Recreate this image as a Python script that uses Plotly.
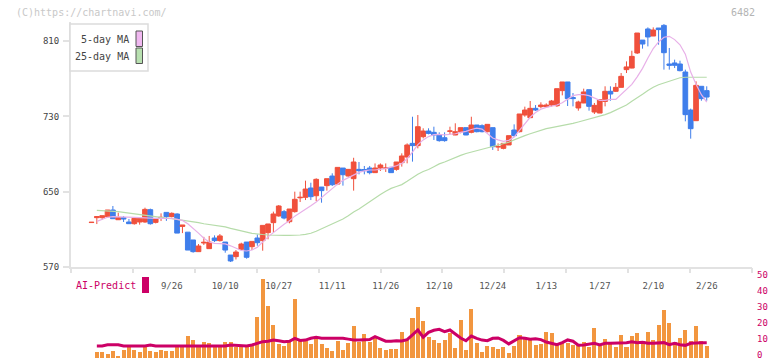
import plotly.graph_objects as go

# ---------------- data ----------------
idx = list(range(116))

opens = [
    617.2, 622.4, 622.4, 623.5, 630.5, 620.2, 622.4, 617.8, 616.0, 617.8,
    617.8, 630.9, 617.4, 622.0, 628.0, 623.5, 626.3, 613.1, 607.0, 598.7,
    586.3, 595.5, 589.5, 600.8, 598.0, 596.5, 582.7, 581.0, 588.8, 596.5,
    591.6, 600.8, 598.0, 606.5, 617.1, 624.2, 628.8, 618.1, 628.8, 643.5,
    644.0, 653.9, 645.7, 654.9, 656.4, 666.6, 658.1, 675.1, 666.6, 663.8,
    673.7, 673.5, 675.1, 670.2, 675.1, 674.8, 675.8, 673.7, 680.8, 686.8,
    701.3, 698.9, 708.4, 714.4, 713.0, 710.2, 707.3, 714.2, 710.2, 713.7,
    718.0, 713.0, 720.8, 720.1, 713.7, 718.0, 697.5, 696.0, 699.6, 715.5,
    713.7, 731.4, 728.6, 738.5, 740.3, 740.3, 742.0, 741.3, 757.3, 766.5,
    750.0, 738.9, 744.2, 758.3, 734.6, 733.5, 745.9, 756.6, 756.6, 760.8,
    779.6, 781.3, 797.3, 811.0, 822.8, 815.3, 823.8, 826.6, 785.6, 786.7,
    785.6, 777.1, 736.7, 725.4, 761.9, 757.3,
]
highs = [
    617.5, 623.5, 624.5, 630.5, 634.8, 627.7, 624.0, 621.0, 621.7, 622.0,
    633.0, 632.0, 621.7, 627.0, 628.0, 628.0, 627.0, 614.6, 607.0, 598.7,
    594.4, 602.0, 603.0, 603.6, 605.0, 596.5, 582.7, 588.0, 595.8, 596.5,
    597.2, 604.6, 614.2, 615.7, 628.8, 635.8, 630.5, 631.6, 650.0, 650.0,
    661.7, 659.5, 664.2, 655.0, 663.8, 669.5, 675.8, 675.1, 674.0, 686.0,
    681.5, 677.3, 677.3, 680.0, 680.0, 680.0, 676.0, 681.5, 690.7, 701.3,
    729.6, 731.4, 717.3, 717.3, 719.0, 713.0, 713.0, 719.0, 722.6, 718.0,
    718.0, 729.6, 720.8, 721.5, 721.5, 718.0, 701.3, 701.3, 709.5, 721.5,
    732.5, 740.3, 746.3, 742.0, 744.9, 743.8, 747.4, 759.4, 766.5, 766.5,
    754.8, 746.6, 759.4, 758.3, 744.2, 747.7, 761.9, 761.9, 765.4, 776.0,
    788.4, 799.7, 818.5, 811.0, 824.5, 824.5, 823.8, 828.0, 802.6, 790.2,
    789.1, 779.6, 738.2, 767.2, 761.9, 761.9,
]
lows = [
    617.2, 615.6, 620.4, 623.0, 621.0, 620.0, 617.8, 616.0, 615.0, 615.0,
    617.0, 615.0, 616.3, 618.8, 619.0, 622.7, 606.0, 606.0, 588.0, 585.2,
    586.0, 593.4, 589.5, 596.5, 597.0, 585.2, 575.3, 578.0, 588.0, 578.8,
    588.0, 592.6, 587.3, 599.4, 606.5, 623.5, 620.6, 616.4, 627.7, 639.0,
    641.1, 641.1, 640.0, 638.3, 651.1, 656.0, 657.0, 656.4, 666.0, 651.1,
    668.4, 668.4, 668.4, 670.0, 672.0, 670.9, 670.0, 672.3, 676.6, 680.1,
    681.9, 696.0, 706.6, 710.9, 704.9, 703.1, 703.1, 710.9, 710.0, 712.0,
    710.0, 712.0, 713.0, 713.0, 713.0, 694.3, 693.2, 695.0, 699.6, 708.4,
    713.0, 729.6, 728.6, 735.7, 738.5, 739.2, 740.3, 740.0, 752.3, 741.0,
    740.6, 736.0, 744.0, 736.0, 732.5, 733.5, 740.6, 746.6, 755.9, 760.8,
    776.0, 781.0, 796.2, 801.9, 804.3, 815.3, 806.1, 779.6, 779.6, 781.3,
    777.8, 724.7, 706.3, 725.4, 746.6, 746.6,
]
closes = [
    617.5, 623.5, 624.5, 630.5, 621.3, 622.4, 621.0, 616.0, 621.7, 621.7,
    631.2, 616.0, 621.0, 622.7, 623.5, 627.0, 606.0, 614.6, 588.0, 586.3,
    592.3, 596.2, 596.5, 598.0, 603.0, 588.0, 576.4, 585.9, 594.4, 580.3,
    597.2, 595.8, 614.2, 615.7, 626.3, 634.8, 622.0, 631.6, 641.9, 644.0,
    652.8, 644.7, 663.1, 651.1, 663.8, 657.4, 675.8, 668.0, 673.7, 681.5,
    672.3, 672.3, 670.2, 675.1, 678.3, 675.1, 670.2, 681.5, 687.9, 699.6,
    698.9, 719.0, 714.4, 711.9, 710.2, 704.2, 704.2, 714.4, 713.7, 718.0,
    710.2, 720.8, 713.7, 713.7, 721.5, 697.8, 697.8, 701.3, 709.5, 709.5,
    732.5, 736.7, 738.5, 736.7, 742.0, 742.0, 746.3, 759.4, 766.5, 748.8,
    748.8, 745.2, 755.9, 740.6, 741.7, 747.7, 756.6, 753.7, 760.8, 772.5,
    782.5, 793.7, 818.5, 806.8, 814.3, 821.7, 822.1, 797.6, 784.2, 784.2,
    778.5, 731.8, 716.9, 762.9, 748.8, 750.5,
]
ma5 = [
    None, 618.5, 620.5, 622.8, 623.5, 623.5, 623.3, 623.0, 622.7, 622.4,
    622.0, 621.8, 621.7, 621.7, 621.7, 621.5, 620.5, 619.5, 616.0, 611.5,
    606.0, 600.5, 596.5, 595.1, 595.0, 594.5, 592.5, 590.0, 587.5, 587.0,
    588.0, 591.0, 597.0, 602.0, 606.5, 611.5, 615.5, 619.0, 624.0, 627.5,
    631.0, 635.0, 639.0, 644.0, 648.5, 653.0, 658.0, 662.0, 665.0, 668.0,
    670.5, 672.0, 673.0, 673.0, 673.5, 674.5, 676.0, 677.5, 680.0, 685.0,
    692.0, 700.0, 705.0, 708.5, 710.5, 710.9, 710.3, 710.5, 711.5, 713.0,
    714.0, 716.0, 717.5, 716.5, 712.0, 707.0, 705.0, 703.5, 704.5, 708.0,
    715.0, 722.5, 729.0, 734.0, 737.5, 739.5, 740.5, 742.0, 744.5, 748.5,
    752.0, 753.0, 753.0, 752.0, 749.5, 747.0, 747.0, 748.0, 748.0, 753.0,
    758.0, 764.0, 772.0, 781.0, 792.0, 802.0, 809.0, 814.0, 815.0, 811.5,
    806.0, 796.0, 777.0, 764.0, 753.0, 745.0,
]
ma25 = [
    None, 630.2, 630.0, 629.7, 629.3, 628.8, 628.0, 627.2, 626.4, 625.2,
    624.6, 624.0, 623.5, 622.8, 622.0, 621.3, 620.6, 620.0, 619.2, 618.2,
    617.2, 615.9, 615.0, 614.4, 613.9, 612.6, 611.0, 609.9, 608.5, 607.0,
    605.8, 604.9, 604.5, 604.0, 603.6, 603.5, 603.5, 603.5, 603.6, 604.0,
    604.7, 605.8, 608.0, 610.5, 613.0, 615.5, 618.2, 621.0, 624.5, 628.5,
    631.5, 635.5, 639.5, 643.0, 647.0, 650.5, 653.5, 655.5, 657.5, 661.0,
    665.0, 668.5, 671.5, 673.5, 676.5, 679.5, 681.5, 684.0, 686.5, 688.5,
    690.5, 692.0, 693.5, 694.8, 696.0, 697.5, 699.0, 700.5, 702.5, 705.0,
    707.5, 709.5, 711.5, 713.5, 715.5, 717.0, 718.0, 719.0, 720.0, 721.5,
    722.5, 724.0, 725.5, 726.5, 728.5, 730.0, 731.8, 734.0, 736.5, 738.9,
    742.0, 746.0, 749.5, 753.5, 757.5, 761.0, 763.5, 765.5, 767.2, 769.0,
    771.0, 771.5, 771.5, 771.5, 771.5, 771.5,
]
volume = [
    None, 4, 4, 2.5, 4.6, 1.25, 5, 6.7, 5, 4,
    6.7, 4.4, 4, 5, 4.4, 4.4, 6.7, 6.7, 13.75, 11.25,
    7.1, 10, 9.4, 6.7, 6.7, 10, 10, 6.7, 8.1, 6.7,
    8.1, 25.8, 49.4, 32.5, 20.6, 8.75, 7.5, 10.8, 36.9, 11.25,
    10.8, 8.75, 12.3, 8.75, 6, 4.4, 10.8, 5, 9.6, 20,
    10.2, 15, 10.2, 12.3, 6, 5, 5.4, 5.4, 16.5, 11.25,
    25.2, 32.1, 23.1, 13.3, 11.25, 9.6, 11.25, 15.8, 6.25, 23.75,
    5, 30.6, 9.6, 3.75, 7.5, 6.9, 5.4, 6.9, 3.3, 7.5,
    14.2, 13.3, 12.3, 8.1, 8.75, 16.25, 15.8, 8.75, 9.6, 9.6,
    8.1, 7.9, 10, 7.1, 18.75, 7.5, 11.7, 8.5, 7.1, 14.4,
    7.1, 13.75, 15.4, 10.8, 16.25, 11.25, 20.6, 30, 22.1, 10,
    12.3, 17.5, 10.4, 20, 10.6, 7.5,
]
ai_predict = [
    None, 7.5, 7.5, 8.3, 8.3, 8.3, 7.5, 7.5, 7.5, 7.5,
    7.5, 8.1, 7.5, 7.5, 7.5, 7.5, 7.5, 7.5, 7.5, 7.5,
    7.5, 7.5, 7.5, 7.5, 7.5, 7.5, 8.1, 7.9, 7.5, 7.5,
    8.1, 9.2, 10.2, 10.5, 11.25, 10.8, 10.2, 10.5, 12.3, 11.0,
    11.2, 12.3, 13.0, 12.3, 12.1, 12.3, 12.3, 12.3, 11.8, 11.3,
    11.3, 11.3, 11.5, 13.3, 11.8, 10.5, 10.4, 10.8, 10.6, 11.5,
    14.5, 17.5, 13.0, 16.0, 17.3, 17.9, 16.5, 17.5, 15.0, 12.5,
    10.8, 13.75, 12.3, 11.2, 10.8, 12.3, 12.5, 11.0, 8.8, 11.0,
    12.7, 12.3, 11.7, 12.0, 11.5, 10.0, 9.2, 8.3, 9.6, 11.3,
    10.5, 8.0, 8.1, 8.75, 9.2, 8.1, 9.2, 9.2, 9.2, 9.6,
    9.6, 10.2, 9.6, 9.8, 9.2, 9.2, 9.6, 9.6, 8.3, 9.2,
    8.3, 7.9, 9.2, 9.6, 9.6, 9.6,
]
date_label_pos = [15, 25, 35, 45, 55, 65, 75, 85, 95, 105, 115]
date_labels = ["9/26", "10/10", "10/27", "11/11", "11/26", "12/10",
               "12/24", "1/13", "1/27", "2/10", "2/26"]
price_ticks = [570, 650, 730, 810]
ai_ticks = [0, 10, 20, 30, 40, 50]

# ---------------- styling ----------------
RED = "#F0503C"
BLUE = "#3F7EEB"
ORANGE = "#F2963F"
CRIMSON = "#CC0066"
PINK = "#E8B0E8"
GREEN = "#B6DCAA"
AXIS = "#E2E2E2"
FONT = "DejaVu Sans Mono"

W, H = 772, 361
ML, MR, MT, MB = 71, 20, 10, 3
PW = W - ML - MR
PH = H - MT - MB


def px_x(px):
    return (px - ML) / PW


def px_y(py):
    return (H - MB - py) / PH


fig = go.Figure()

fig.add_trace(go.Candlestick(
    x=idx, open=opens, high=highs, low=lows, close=closes,
    increasing=dict(line=dict(color=RED, width=1), fillcolor=RED),
    decreasing=dict(line=dict(color=BLUE, width=1), fillcolor=BLUE),
    whiskerwidth=0, xaxis="x", yaxis="y", showlegend=False, hoverinfo="skip",
))
fig.add_trace(go.Scatter(x=idx, y=ma25, mode="lines", line=dict(color=GREEN, width=1.2),
                         xaxis="x", yaxis="y", showlegend=False, hoverinfo="skip"))
fig.add_trace(go.Scatter(x=idx, y=ma5, mode="lines", line=dict(color=PINK, width=1.2),
                         xaxis="x", yaxis="y", showlegend=False, hoverinfo="skip"))
fig.add_trace(go.Bar(x=idx, y=volume, marker=dict(color=ORANGE, line=dict(width=0)),
                     width=0.75, xaxis="x2", yaxis="y2", showlegend=False, hoverinfo="skip"))
fig.add_trace(go.Scatter(x=idx, y=ai_predict, mode="lines", line=dict(color=CRIMSON, width=3),
                         xaxis="x2", yaxis="y2", showlegend=False, hoverinfo="skip"))
# empty trace so the tick-mark overlay axis is drawn
fig.add_trace(go.Scatter(x=[], y=[], xaxis="x3", yaxis="y", showlegend=False, hoverinfo="skip"))

x_range = [-3.83, 123.46]

fig.update_layout(
    width=W, height=H,
    margin=dict(l=ML, r=MR, t=MT, b=MB, autoexpand=False),
    paper_bgcolor="white", plot_bgcolor="white",
    font=dict(family=FONT, size=9, color="#444"),
    boxgap=0.12, boxgroupgap=0,
    bargap=0,
    hovermode=False,
    xaxis=dict(
        domain=[0, 1], anchor="y", range=x_range, automargin=False,
        rangeslider=dict(visible=False),
        showline=True, linecolor=AXIS, linewidth=2,
        showgrid=False, zeroline=False, ticks="",
        tickmode="array", tickvals=date_label_pos, ticktext=date_labels,
        tickfont=dict(family=FONT, size=9, color="#555"),
        ticklabelstandoff=9,
    ),
    xaxis3=dict(
        overlaying="x", anchor="y", range=[0, 11], automargin=False,
        tickmode="array", tickvals=list(range(12)),
        ticks="outside", ticklen=5, tickwidth=2, tickcolor=AXIS,
        showticklabels=False, showgrid=False, zeroline=False, showline=False,
    ),
    xaxis2=dict(
        domain=[0, 1], anchor="y2", matches="x", automargin=False,
        showticklabels=False, showgrid=False, zeroline=False, showline=False, ticks="",
    ),
    yaxis=dict(
        domain=[px_y(267), px_y(22)], range=[570, 830.2], anchor="x", automargin=False,
        tickmode="array", tickvals=price_ticks,
        ticks="outside", ticklen=6, tickwidth=2, tickcolor=AXIS,
        showline=True, linecolor=AXIS, linewidth=2,
        showgrid=False, zeroline=False,
        tickfont=dict(family=FONT, size=9, color="#444"),
        ticklabelstandoff=2,
    ),
    yaxis2=dict(
        domain=[0, px_y(278)], range=[0, 50], anchor="x2", side="right", automargin=False,
        tickmode="array", tickvals=ai_ticks, ticks="",
        showgrid=False, zeroline=False, showline=False,
        tickfont=dict(family=FONT, size=9, color=CRIMSON),
        ticklabelstandoff=4, ticklabeloverflow="allow", ticklabelshift=-3,
    ),
)

shapes = [
    dict(type="rect", xref="paper", yref="paper",
         x0=px_x(70), x1=px_x(148), y0=px_y(71), y1=px_y(24),
         line=dict(color="#DCDCDC", width=1.5), fillcolor="white", layer="above"),
    dict(type="rect", xref="paper", yref="paper",
         x0=px_x(136), x1=px_x(142.5), y0=px_y(46.5), y1=px_y(31),
         line=dict(color="#555", width=1), fillcolor="#F0B8F0", layer="above"),
    dict(type="rect", xref="paper", yref="paper",
         x0=px_x(136), x1=px_x(142.5), y0=px_y(63.5), y1=px_y(48),
         line=dict(color="#555", width=1), fillcolor="#B8E0B0", layer="above"),
    dict(type="rect", xref="paper", yref="paper",
         x0=px_x(142), x1=px_x(149), y0=px_y(293), y1=px_y(277),
         line=dict(width=0), fillcolor=CRIMSON, layer="above"),
]

annotations = [
    dict(text="(C)https://chartnavi.com/", x=px_x(14), y=px_y(12.5), xref="paper", yref="paper",
         xanchor="left", yanchor="middle", showarrow=False,
         font=dict(family=FONT, size=10, color="#C8C8C8")),
    dict(text="6482", x=px_x(757), y=px_y(12.5), xref="paper", yref="paper",
         xanchor="right", yanchor="middle", showarrow=False,
         font=dict(family=FONT, size=10, color="#B4B4B4")),
    dict(text="5-day MA", x=px_x(131), y=px_y(39.5), xref="paper", yref="paper",
         xanchor="right", yanchor="middle", showarrow=False,
         font=dict(family=FONT, size=10, color="#444")),
    dict(text="25-day MA", x=px_x(131), y=px_y(56.5), xref="paper", yref="paper",
         xanchor="right", yanchor="middle", showarrow=False,
         font=dict(family=FONT, size=10, color="#444")),
    dict(text="AI-Predict", x=px_x(74), y=px_y(285.5), xref="paper", yref="paper",
         xanchor="left", yanchor="middle", showarrow=False,
         font=dict(family=FONT, size=10, color=CRIMSON)),
]

fig.update_layout(shapes=shapes, annotations=annotations)

fig.write_html(
    "out.html",
    config={"displayModeBar": False, "staticPlot": True},
    post_script="document.body.style.margin='0';document.body.style.padding='0';"
                "document.body.style.overflow='hidden';",
)
